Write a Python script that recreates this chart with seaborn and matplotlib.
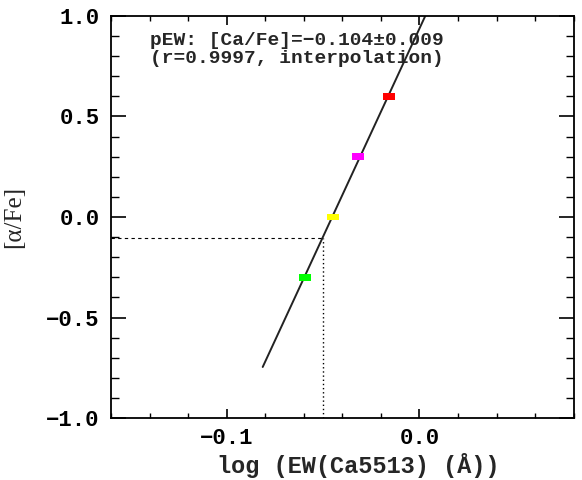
import numpy as np
import pandas as pd
import matplotlib
matplotlib.use("Agg")
import matplotlib.pyplot as plt
import seaborn as sns
from matplotlib.ticker import MultipleLocator

# calibration points (log EW vs [alpha/Fe])
log_ew = [-0.0594, -0.0448, -0.0318, -0.0156]
alpha_fe = [-0.3, 0.0, 0.3, 0.6]
point_colors = ["#00ff00", "#ffff00", "#ff00ff", "#ff0000"]

# fitted relation, drawn between these two ends
line_x = [-0.0813, 0.0045]
line_y = [-0.746, 1.03]

# measured value
meas_x = -0.0498
meas_y = -0.104

x_lim = (-0.16, 0.08)
y_lim = (-1.0, 1.0)

sns.set_style("ticks")
plt.rcParams['font.family'] = ['Liberation Mono', 'DejaVu Sans Mono']
plt.rcParams['font.weight'] = 'bold'

fig = plt.figure(figsize=(5.82, 4.8), dpi=100)
ax = fig.add_axes([0.1907, 0.129, 0.795, 0.838])

pts = pd.DataFrame({'x': log_ew, 'y': alpha_fe, 'c': point_colors})
fit = pd.DataFrame({'x': line_x, 'y': line_y})

sns.lineplot(data=fit, x='x', y='y', ax=ax, color='#222222', lw=1.4, zorder=2)

rect = [(-1, -0.55), (1, -0.55), (1, 0.55), (-1, 0.55)]
sns.scatterplot(data=pts, x='x', y='y', hue='c', palette=dict(zip(point_colors, point_colors)),
                marker=rect, s=75, linewidth=0, legend=False, ax=ax, zorder=3)

# guide lines to the measured value
ax.plot([x_lim[0], meas_x], [meas_y, meas_y], color='black', lw=0.8, ls=(0, (3, 3)))
ax.plot([meas_x, meas_x], [y_lim[0], meas_y], color='black', lw=1.0, ls=(0, (1, 2)))

ax.set_xlim(*x_lim)
ax.set_ylim(*y_lim)
ax.xaxis.set_major_locator(MultipleLocator(0.1))
ax.xaxis.set_minor_locator(MultipleLocator(0.02))
ax.yaxis.set_major_locator(MultipleLocator(0.5))
ax.yaxis.set_minor_locator(MultipleLocator(0.1))

ax.tick_params(axis='both', which='both', direction='in', top=True, right=True, colors='black')
ax.tick_params(axis='y', which='major', length=11, width=1.2, pad=8, labelsize=16)
ax.tick_params(axis='y', which='minor', length=6, width=1.0)
ax.tick_params(axis='x', which='major', length=6.5, width=1.2, pad=7, labelsize=16)
ax.tick_params(axis='x', which='minor', length=3.5, width=1.0)

xt = [-0.1, 0.0]
ax.set_xticks(xt)
ax.set_xticklabels(['\u22120.1', '0.0'])
yt = [-1.0, -0.5, 0.0, 0.5, 1.0]
ax.set_yticks(yt)
ax.set_yticklabels(['\u22121.0', '\u22120.5', '0.0', '0.5', '1.0'])

for s in ax.spines.values():
    s.set_linewidth(1.3)
    s.set_color('black')

ax.set_xlabel('log (EW(Ca5513) (\u00c5))', fontsize=17, fontweight='bold', va='center')
ax.xaxis.set_label_coords(0.535, -0.117)
ax.set_ylabel('[\u03b1/Fe]', fontsize=18, family='Liberation Serif', fontweight='normal')
ax.yaxis.set_label_coords(-0.185, 0.5)

ax.text(0.085, 0.938, 'pEW: [Ca/Fe]=\u22120.104\u00b10.009', transform=ax.transAxes,
        fontsize=14, ha='left', va='center')
ax.text(0.085, 0.893, '(r=0.9997, interpolation)', transform=ax.transAxes,
        fontsize=14, ha='left', va='center')

fig.savefig('out.png', dpi=100)
